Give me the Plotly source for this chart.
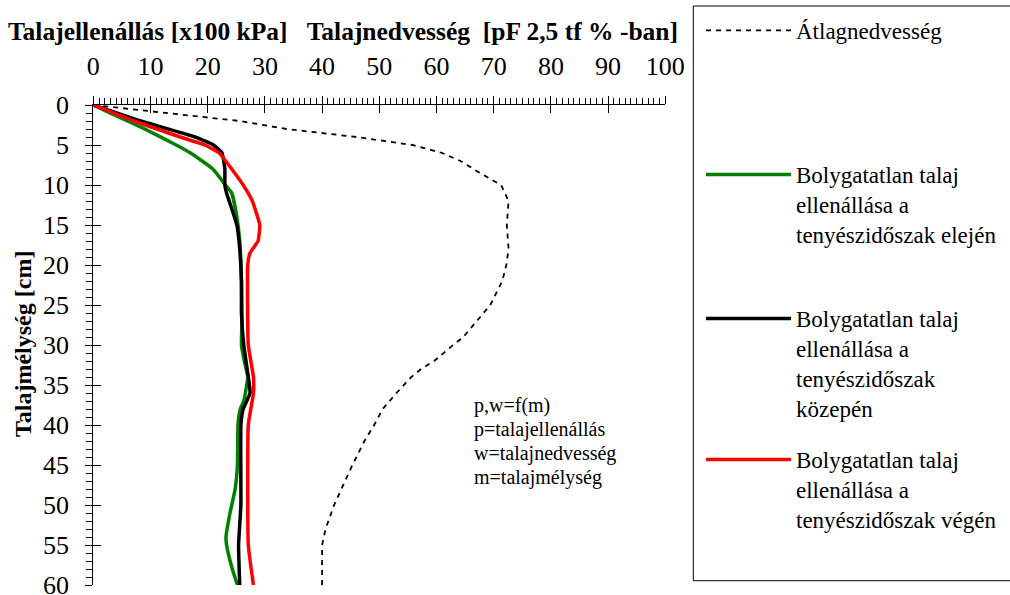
import plotly.graph_objects as go

W, H = 1010, 595
FONT = "Liberation Serif"
FONT_TNR = "Times New Roman"

# Average soil moisture [pF 2,5 tf %] by depth [cm]
moist_depth = [0, 1, 2, 3, 4, 5, 6, 7, 8.5, 10, 12, 15, 18, 20, 22, 25, 27, 29, 30,
               32, 33, 34, 36, 38, 40, 42, 45, 48, 50, 53, 55, 60]
moist_val = [0, 12.8, 25.6, 33.8, 46.0, 55.8, 61.0, 64.2, 67.6, 71.3, 72.6, 72.3, 72.6,
             72.2, 71.5, 69.4, 67.0, 64.7, 62.9, 59.6, 57.3, 55.6, 53.0, 50.6, 49.1,
             47.4, 45.3, 43.3, 42.1, 40.6, 40.0, 40.0]

# Soil resistance [x100 kPa] - start of the growing season
start_depth = [0, 1, 3, 5, 6, 8, 10, 11, 14, 17, 22, 27, 30, 32, 34, 37, 38, 40,
               45, 48, 51, 54, 55, 58, 60]
start_val = [0, 2.9, 9.0, 14.5, 17.0, 20.9, 23.1, 24.2, 25.1, 25.6, 25.9, 26.0, 25.9,
             26.4, 27.0, 26.3, 25.7, 25.3, 25.2, 24.8, 23.9, 23.2, 23.3, 24.3, 25.2]

# Soil resistance - middle of the growing season
mid_depth = [0, 2, 4, 5, 6, 8, 10, 11, 15, 18, 22, 26, 30, 34, 36, 38, 40, 50, 55, 60]
mid_val = [0, 8.3, 17.8, 21.0, 22.5, 23.0, 23.0, 23.3, 25.1, 25.6, 25.9, 25.9, 26.3,
           27.1, 27.4, 26.2, 25.8, 25.8, 25.4, 25.6]

# Soil resistance - end of the growing season
end_depth = [0, 2, 4, 5, 6, 8, 10, 12, 15, 17, 18.5, 20, 30, 34, 36, 40, 55, 60]
end_val = [0, 7.1, 15.2, 19.5, 22.0, 24.2, 26.2, 27.8, 29.1, 28.8, 27.4, 27.0, 27.1,
           28.0, 28.0, 27.1, 27.1, 28.0]

x_ticks = list(range(0, 101, 10))
y_ticks = list(range(0, 61, 5))

legend_names = [
    "Átlagnedvesség",
    "Bolygatatlan talaj<br>ellenállása a<br>tenyészidőszak elején",
    "Bolygatatlan talaj<br>ellenállása a<br>tenyészidőszak<br>közepén",
    "Bolygatatlan talaj<br>ellenállása a<br>tenyészidőszak végén",
]
note_lines = ["p,w=f(m)", "p=talajellenállás", "w=talajnedvesség", "m=talajmélység"]

fig = go.Figure()

fig.add_trace(go.Scatter(x=moist_val, y=moist_depth, mode="lines", name=legend_names[0],
                         line=dict(color="black", width=1.8, dash="5px,5px"),
                         legend="legend"))
fig.add_trace(go.Scatter(x=start_val, y=start_depth, mode="lines", name=legend_names[1],
                         line=dict(color="#008000", width=3.5, shape="spline", smoothing=0.4),
                         legend="legend2"))
fig.add_trace(go.Scatter(x=mid_val, y=mid_depth, mode="lines", name=legend_names[2],
                         line=dict(color="black", width=3.5, shape="spline", smoothing=0.4),
                         legend="legend3"))
fig.add_trace(go.Scatter(x=end_val, y=end_depth, mode="lines", name=legend_names[3],
                         line=dict(color="#FF0000", width=3.5, shape="spline", smoothing=0.4),
                         legend="legend4"))
# empty trace carrying the overlay axes used for the inner half of the major ticks
fig.add_trace(go.Scatter(x=[None], y=[None], xaxis="x2", yaxis="y2",
                         showlegend=False, hoverinfo="skip"))

x0, x1 = 93.3 / W, 665.3 / W
y0, y1 = 1 - 585 / H, 1 - 105 / H

tickfont = dict(family=FONT_TNR, size=26, color="black")

fig.update_layout(
    width=W, height=H,
    margin=dict(l=0, r=0, t=0, b=0, autoexpand=False),
    paper_bgcolor="white", plot_bgcolor="white",
    font=dict(family=FONT, color="black"),
    title=dict(
        text="<b>Talajellenállás [x100 kPa]\u00a0\u00a0\u00a0Talajnedvesség\u00a0\u00a0[pF 2,5 tf % -ban]</b>",
        font=dict(family=FONT, size=25.5, color="black"),
        x=343 / W, xanchor="center", y=1 - 31 / H, yanchor="middle"),
    xaxis=dict(domain=[x0, x1], range=[0, 100], side="top", anchor="y", automargin=False,
               tickvals=x_ticks, ticks="outside", ticklen=8, tickwidth=1, tickcolor="black",
               minor=dict(dtick=1, ticks="outside", ticklen=6, tickwidth=1, tickcolor="black"),
               showline=True, linecolor="black", linewidth=1, ticklabeloverflow="allow",
               showgrid=False, zeroline=False, tickfont=tickfont, ticklabelstandoff=11),
    yaxis=dict(domain=[y0, y1], range=[60, 0], anchor="x", automargin=False,
               tickvals=y_ticks, ticks="outside", ticklen=7, tickwidth=1, tickcolor="black",
               minor=dict(dtick=1, ticks="outside", ticklen=6, tickwidth=1, tickcolor="black"),
               showline=True, linecolor="black", linewidth=1, ticklabeloverflow="allow",
               showgrid=False, zeroline=False, tickfont=tickfont, ticklabelstandoff=11),
    xaxis2=dict(overlaying="x", matches="x", side="top", anchor="y2", automargin=False,
                tickvals=x_ticks, ticks="inside", ticklen=8, tickwidth=1, tickcolor="black",
                showticklabels=False, showline=False, showgrid=False, zeroline=False),
    yaxis2=dict(overlaying="y", matches="y", side="left", anchor="x2", automargin=False,
                tickvals=y_ticks, ticks="inside", ticklen=8, tickwidth=1, tickcolor="black",
                showticklabels=False, showline=False, showgrid=False, zeroline=False),
    showlegend=True,
)

legend_centers = [33, 177, 321, 462]
legend_keys = ["legend", "legend2", "legend3", "legend4"]
for key, yc in zip(legend_keys, legend_centers):
    fig.layout[key] = dict(
        x=701 / W, xanchor="left", y=1 - (yc - 24) / H, yanchor="top",
        font=dict(family=FONT_TNR, size=23, color="black"),
        bgcolor="rgba(0,0,0,0)", borderwidth=0, itemwidth=85, valign="top",
        tracegroupgap=0)

# legend frame
fig.add_shape(type="rect", xref="paper", yref="paper",
              x0=693.3 / W, x1=1.02, y0=1 - 580.7 / H, y1=1 - 6 / H,
              line=dict(color="black", width=1), layer="below")

# y axis title
fig.add_annotation(text="<b>Talajmélység [cm]</b>", xref="paper", yref="paper",
                   x=23 / W, y=1 - 344 / H, textangle=-90, showarrow=False,
                   xanchor="center", yanchor="middle",
                   font=dict(family=FONT, size=24, color="black"))

# relation notes
for i, line in enumerate(note_lines):
    fig.add_annotation(text=line, xref="paper", yref="paper",
                       x=471.7 / W, y=1 - (405 + 24 * i) / H, showarrow=False,
                       xanchor="left", yanchor="middle",
                       font=dict(family=FONT, size=20, color="black"))

fig.write_html("out.html")
